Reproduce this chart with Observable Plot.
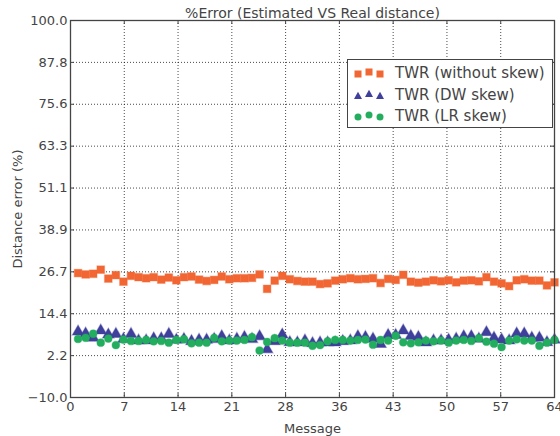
<!DOCTYPE html>
<html>
<head>
<meta charset="utf-8">
<script src="https://cdn.jsdelivr.net/npm/d3@7"></script>
<script src="https://cdn.jsdelivr.net/npm/@observablehq/plot@0.6"></script>
<style>
  html, body { margin: 0; padding: 0; background: #fff; }
  #wrap { position: relative; width: 560px; height: 436px; font-family: "DejaVu Sans", sans-serif; }
  #legend { position: absolute; left: 347px; top: 59px; width: 206px; height: 69px; border: 1px solid #444; background: #fff; box-sizing: border-box; }
  .row { position: absolute; left: 0; height: 20px; width: 100%; }
  .row svg { position: absolute; left: 4px; top: 0; }
  .row span { position: absolute; left: 47px; top: 1px; font-size: 15px; color: #444; white-space: nowrap; line-height: 18px; }
</style>
</head>
<body>
<div id="wrap"><div id="legend"></div></div>
<script>
const titleText = "%Error (Estimated VS Real distance)";
const xLabel = "Message";
const yLabel = "Distance error (%)";

const seriesNames = ["TWR (without skew)", "TWR (DW skew)", "TWR (LR skew)"];
const seriesColors = ["#F26633", "#3F3F9C", "#22AE5E"];
const seriesSymbols = ["square", "triangle", "circle"];

const messages = [1,2,3,4,5,6,7,8,9,10,11,12,13,14,15,16,17,18,19,20,21,22,23,24,25,26,27,28,29,30,31,32,
  33,34,35,36,37,38,39,40,41,42,43,44,45,46,47,48,49,50,51,52,53,54,55,56,57,58,59,60,61,62,63,64];

const withoutSkew = [26.3,25.9,26.1,27.3,24.7,25.7,23.8,25.5,25.1,24.8,25.1,24.4,25.0,24.2,25.1,25.3,
  24.4,24.0,24.3,25.3,24.5,24.8,24.8,24.9,25.9,21.7,24.1,25.5,24.5,24.0,23.8,23.8,
  23.1,23.3,24.1,24.5,24.8,24.5,24.6,24.8,23.4,24.6,24.3,25.8,23.8,23.5,23.8,24.2,
  23.9,24.2,23.6,24.1,24.2,23.9,25.1,23.8,23.3,22.5,24.2,24.5,24.1,24.1,22.7,23.6];

const dwSkew = [9.2,8.6,7.4,9.5,8.3,8.5,7.0,8.5,6.6,6.6,7.2,7.2,8.5,6.8,7.0,6.4,
  6.8,6.8,7.0,7.8,6.6,7.1,7.6,7.0,7.8,4.0,6.4,8.3,6.1,6.0,6.6,5.8,
  6.0,6.0,6.0,6.4,6.6,7.8,7.6,7.1,5.6,8.2,8.2,9.5,7.9,7.6,6.0,6.6,
  6.6,6.8,7.1,7.8,7.8,7.1,9.0,7.4,6.9,6.6,8.6,8.6,7.4,7.4,6.1,6.8];

const lrSkew = [7.1,7.4,8.6,6.0,7.2,5.3,6.9,6.5,6.5,6.8,6.4,6.5,6.0,6.8,7.0,5.8,
  6.0,6.0,7.4,6.4,6.6,6.6,6.8,7.6,3.7,6.2,7.3,6.6,6.0,6.0,6.0,5.1,
  5.3,6.4,6.8,6.8,6.6,6.8,6.9,5.4,6.8,6.6,8.0,6.1,5.8,6.1,6.6,6.4,
  6.6,6.0,6.6,6.8,6.5,7.3,6.3,5.7,4.7,6.6,7.0,6.6,6.6,5.1,6.0,6.8];

const xTicks = [0, 7.111, 14.222, 21.333, 28.444, 35.556, 42.667, 49.778, 56.889, 64];
const xTickLabels = ["0","7","14","21","28","36","43","50","57","64"];
const yTicks = [-10, 2.222, 14.444, 26.667, 38.889, 51.111, 63.333, 75.556, 87.778, 100];
const yTickLabels = ["\u221210.0","2.2","14.4","26.7","38.9","51.1","63.3","75.6","87.8","100.0"];

const xFmt = new Map(xTicks.map((t, i) => [t, xTickLabels[i]]));
const yFmt = new Map(yTicks.map((t, i) => [t, yTickLabels[i]]));

const seriesValues = [withoutSkew, dwSkew, lrSkew];
const rows = [];
seriesValues.forEach((vals, s) => vals.forEach((v, i) => rows.push({message: messages[i], value: v, series: s})));

const textColor = "#444";
const dotMarks = [0, 1, 2].map(s => Plot.dot(rows.filter(d => d.series === s), {
  x: "message", y: "value",
  symbol: () => seriesSymbols[s],
  r: s === 2 ? 3.9 : 4.3,
  fill: seriesColors[s],
  stroke: seriesColors[s], strokeOpacity: 0.35, strokeWidth: 1.2
}));

const chart = Plot.plot({
  width: 560, height: 436,
  marginLeft: 70, marginRight: 6, marginTop: 20, marginBottom: 39,
  style: {fontFamily: "DejaVu Sans, sans-serif", fontSize: "13px", color: textColor, background: "transparent"},
  x: {domain: [0, 64]},
  y: {domain: [-10, 100]},
  symbol: {type: "identity"},
  marks: [
    Plot.gridX(xTicks, {stroke: "#000", strokeOpacity: 0.9, strokeWidth: 0.8, strokeDasharray: "1,2"}),
    Plot.gridY(yTicks, {stroke: "#000", strokeOpacity: 0.9, strokeWidth: 0.8, strokeDasharray: "1,2"}),
    ...dotMarks,
    Plot.tickX(xTicks, {x: d => d, stroke: "#444", insetTop: 373}),
    Plot.tickX(xTicks, {x: d => d, stroke: "#444", insetBottom: 373}),
    Plot.tickY(yTicks, {y: d => d, stroke: "#444", insetRight: 480}),
    Plot.tickY(yTicks, {y: d => d, stroke: "#444", insetLeft: 480}),
    Plot.frame({stroke: "#444", strokeWidth: 1.3}),
    Plot.axisX(xTicks, {tickSize: 0, tickPadding: 4, tickFormat: d => xFmt.get(d), fontSize: 13, fill: textColor,
      label: xLabel, labelAnchor: "center", labelArrow: "none", labelOffset: 35}),
    Plot.axisY(yTicks, {tickSize: 0, tickPadding: 3, tickFormat: d => yFmt.get(d), fontSize: 13, fill: textColor,
      label: yLabel, labelAnchor: "center", labelArrow: "none", labelOffset: 58}),
    Plot.text([titleText], {text: d => d, frameAnchor: "top", dy: -12, fontSize: 14, fill: textColor})
  ]
});

const wrap = document.getElementById("wrap");
wrap.insertBefore(chart, wrap.firstChild);

// legend (HTML overlay)
const legend = document.getElementById("legend");
const offsets = [0, -2, 0];
seriesNames.forEach((name, s) => {
  const row = document.createElement("div");
  row.className = "row";
  row.style.top = (3 + s * 21.5) + "px";
  const ns = "http://www.w3.org/2000/svg";
  const svg = document.createElementNS(ns, "svg");
  svg.setAttribute("width", 40); svg.setAttribute("height", 20);
  [6, 17, 28].forEach((cx, k) => {
    const cy = 11 + offsets[k];
    let el;
    if (seriesSymbols[s] === "square") {
      el = document.createElementNS(ns, "rect");
      el.setAttribute("x", cx - 3.5); el.setAttribute("y", cy - 3.5);
      el.setAttribute("width", 7); el.setAttribute("height", 7);
    } else if (seriesSymbols[s] === "triangle") {
      el = document.createElementNS(ns, "path");
      el.setAttribute("d", `M${cx},${cy - 4.2}L${cx + 4},${cy + 3}L${cx - 4},${cy + 3}Z`);
    } else {
      el = document.createElementNS(ns, "circle");
      el.setAttribute("cx", cx); el.setAttribute("cy", cy); el.setAttribute("r", 3.5);
    }
    el.setAttribute("fill", seriesColors[s]);
    svg.appendChild(el);
  });
  row.appendChild(svg);
  const span = document.createElement("span");
  span.textContent = name;
  row.appendChild(span);
  legend.appendChild(row);
});
</script>
</body>
</html>
